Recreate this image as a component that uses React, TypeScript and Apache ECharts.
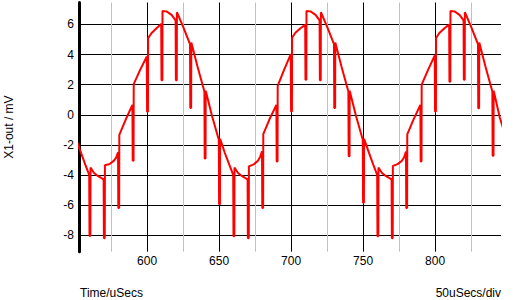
import React, { useEffect, useRef } from "react";
import * as echarts from "echarts";

// Axis tick values
const majorTimeTicks = [600, 650, 700, 750, 800];
const minorTimeTicks = [575, 625, 675, 725, 775, 825];
const voltTicks = [-8, -6, -4, -2, 0, 2, 4, 6];

// Trace readings [time uSecs, X1-out mV], one list per cycle
const cycle550: [number, number][] = [
  [550.5, -1.6], [554, -2.5], [557, -3.3], [559.8, -4.0], [560, -8.05], [560.6, -8.05],
  [560.7, -3.5], [563, -3.85], [565.5, -4.05], [568, -4.2], [569.8, -4.3], [570, -8.2], [570.6, -8.2],
  [570.7, -3.36], [574, -3.27], [577, -3.05], [578.5, -2.85], [579.8, -2.5], [580, -6.2], [580.6, -6.2],
  [580.7, -1.33], [585, -0.35], [589.8, 0.66], [590, -3.05], [590.6, -3.05],
  [590.7, 2.04], [595, 2.95], [599.8, 3.87], [600, 0.2], [600.6, 0.2],
  [600.7, 5.09], [603, 5.42], [606.5, 5.75], [609.8, 6.04], [610, 2.3], [610.6, 2.3],
  [610.7, 6.9], [613.5, 6.87], [617, 6.64], [619.8, 6.27], [620, 2.3], [620.6, 2.3],
  [620.7, 6.82], [625, 5.85], [629.8, 4.7], [630, 0.45], [630.6, 0.45],
  [630.7, 4.8], [635, 3.2], [639.8, 1.55], [640, -2.9], [640.6, -2.9],
  [640.7, 1.6], [645, -0.05], [649.8, -1.66], [650, -5.95], [650.6, -5.95],
];
const cycle650: [number, number][] = [
  [650.7, -1.6], [654, -2.54], [657, -3.3], [659.8, -4.0], [660, -8.07], [660.6, -8.07],
  [660.7, -3.5], [663, -3.85], [665.5, -4.05], [668, -4.2], [669.8, -4.3], [670, -8.2], [670.6, -8.2],
  [670.7, -3.43], [674, -3.3], [677, -3.05], [678.5, -2.8], [679.8, -2.43], [680, -6.2], [680.6, -6.2],
  [680.7, -1.28], [685, -0.3], [689.8, 0.66], [690, -3.1], [690.6, -3.1],
  [690.7, 1.92], [695, 2.95], [699.8, 4.03], [700, 0.22], [700.6, 0.22],
  [700.7, 5.13], [703, 5.45], [706.5, 5.75], [709.8, 5.97], [710, 2.32], [710.6, 2.32],
  [710.7, 6.9], [713.5, 6.87], [717, 6.64], [719.8, 6.27], [720, 2.3], [720.6, 2.3],
  [720.7, 6.82], [725, 5.85], [729.8, 4.7], [730, 0.45], [730.6, 0.45],
  [730.7, 4.8], [735, 3.2], [739.8, 1.55], [740, -2.75], [740.6, -2.75],
  [740.7, 1.6], [745, -0.05], [749.8, -1.66], [750, -5.85], [750.6, -5.85],
];
const cycle750: [number, number][] = [
  [750.7, -1.6], [754, -2.5], [757, -3.3], [759.8, -4.0], [760, -8.07], [760.6, -8.07],
  [760.7, -3.5], [763, -3.85], [765.5, -4.05], [768, -4.2], [769.8, -4.3], [770, -8.2], [770.6, -8.2],
  [770.7, -3.4], [774, -3.28], [777, -3.05], [778.5, -2.82], [779.8, -2.45], [780, -6.2], [780.6, -6.2],
  [780.7, -1.3], [785, -0.32], [789.8, 0.66], [790, -3.1], [790.6, -3.1],
  [790.7, 2.0], [795, 2.95], [799.8, 3.95], [800, 0.22], [800.6, 0.22],
  [800.7, 5.1], [803, 5.43], [806.5, 5.75], [809.8, 6.0], [810, 2.2], [810.6, 2.2],
  [810.7, 6.9], [813.5, 6.87], [817, 6.64], [819.8, 6.27], [820, 2.32], [820.6, 2.32],
  [820.7, 6.82], [825, 5.85], [829.8, 4.7], [830, 0.44], [830.6, 0.44],
  [830.7, 4.8], [835, 3.2], [839.8, 1.55], [840, -2.72], [840.6, -2.72],
  [840.7, 1.6], [845, -0.2], [849.8, -1.66],
];

const FONT = '"Liberation Sans", Arial, sans-serif';

export default function App() {
  const ref = useRef<HTMLDivElement>(null);
  useEffect(() => {
    if (!ref.current) return;
    const chart = echarts.init(ref.current, undefined, { renderer: "svg" });
    const trace = [...cycle550, ...cycle650, ...cycle750];
    chart.setOption({
      animation: false,
      backgroundColor: "#ffffff",
      grid: {
        left: 79,
        top: 2.5,
        width: 422,
        height: 249.2,
        containLabel: false,
        outerBoundsMode: "none",
      },
      xAxis: [
        {
          type: "value",
          min: 552.7,
          max: 845.8,
          axisLine: { show: false },
          axisTick: { show: false, customValues: majorTimeTicks },
          axisLabel: {
            customValues: majorTimeTicks,
            color: "#000",
            fontSize: 12,
            fontFamily: FONT,
            margin: 3,
          },
          splitLine: { show: true, lineStyle: { color: "#000", width: 1 } },
          z: 2,
        },
        {
          type: "value",
          min: 552.7,
          max: 845.8,
          position: "bottom",
          axisLine: { show: false },
          axisTick: { show: false, customValues: minorTimeTicks },
          axisLabel: { show: false, customValues: minorTimeTicks },
          splitLine: { show: true, lineStyle: { color: "#c0c0c0", width: 1 } },
          z: 1,
        },
      ],
      yAxis: {
        type: "value",
        min: -9.1,
        max: 7.46,
        name: "X1-out / mV",
        nameLocation: "middle",
        nameGap: 64,
        nameTextStyle: { color: "#000", fontSize: 12, fontFamily: FONT },
        axisLine: { show: true, onZero: false, lineStyle: { color: "#000", width: 3 } },
        axisTick: { show: false, customValues: voltTicks },
        axisLabel: {
          customValues: voltTicks,
          color: "#000",
          fontSize: 12,
          fontFamily: FONT,
          margin: 5,
        },
        splitLine: { show: true, lineStyle: { color: "#000", width: 1 } },
      },
      graphic: [
        {
          type: "text",
          x: 80,
          y: 293,
          style: { text: "Time/uSecs", fill: "#000", font: `12px ${FONT}`, align: "left", verticalAlign: "middle" },
        },
        {
          type: "text",
          x: 501,
          y: 293,
          style: { text: "50uSecs/div", fill: "#000", font: `12px ${FONT}`, align: "right", verticalAlign: "middle" },
        },
      ],
      series: [
        {
          type: "line",
          xAxisIndex: 0,
          data: trace,
          showSymbol: false,
          symbol: "none",
          clip: true,
          lineStyle: { color: "#ff0000", width: 2, join: "bevel" },
          z: 5,
        },
      ],
    });
    return () => chart.dispose();
  }, []);
  return <div ref={ref} style={{ position: "fixed", left: 0, top: 0, width: 519, height: 300 }} />;
}
